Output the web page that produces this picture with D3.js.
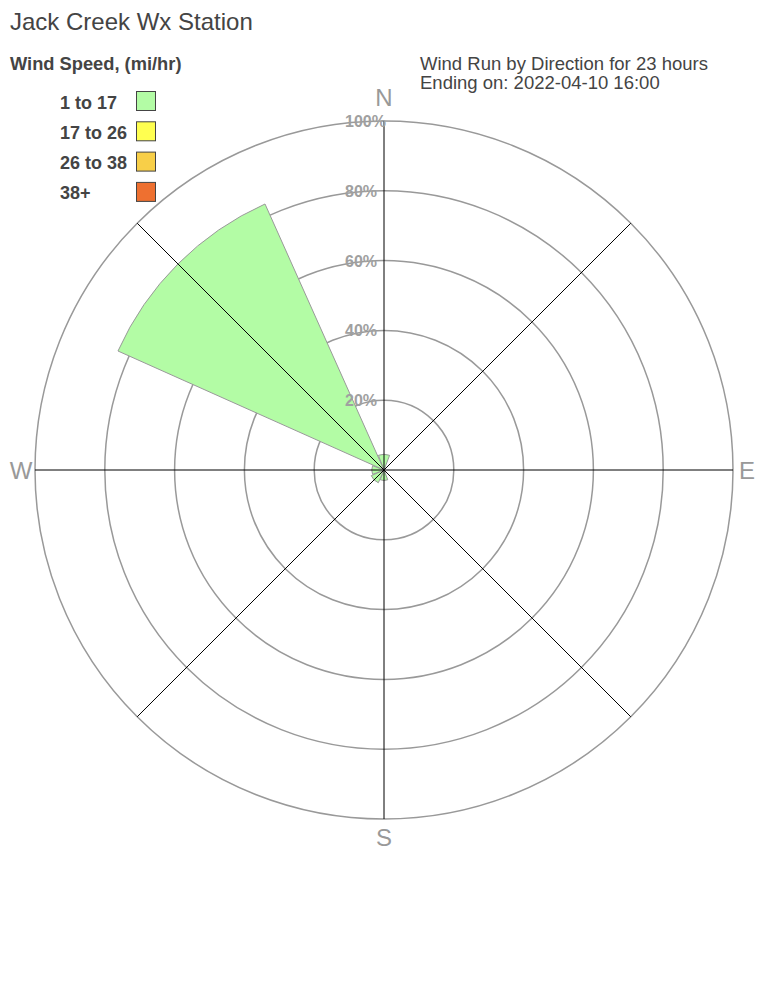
<!DOCTYPE html>
<html><head><meta charset="utf-8">
<script src="https://cdn.jsdelivr.net/npm/d3@7"></script>
<style>body{margin:0;background:#fff}svg{display:block;font-family:"Liberation Sans",Arial,sans-serif}</style>
</head><body><div id="chart"></div>
<script>
const directions = ["N","NE","E","SE","S","SW","W","NW"];
const speedBins = ["1 to 17","17 to 26","26 to 38","38+"];
const binColors = ["#b3fca5","#ffff50","#f8cf48","#ee7030"];
const bin1 = [4.5,0,0,0,3,4,3.5,83.5];
const bin2 = [0,0,0,0,0,0,0,0];
const bin3 = [0,0,0,0,0,0,0,0];
const bin4 = [0,0,0,0,0,0,0,0];
const ringTicks = [20,40,60,80,100];
const compass = ["N","E","S","W"];

const W=768,H=1008,cx=384,cy=470,R=349;
const svg=d3.select("#chart").append("svg").attr("width",W).attr("height",H);
const r=d3.scaleLinear().domain([0,100]).range([0,R]);
const ang=d3.scaleBand().domain(directions).range([-Math.PI/8,2*Math.PI-Math.PI/8]);
const pad=1.6*Math.PI/180;

svg.append("text").attr("x",10).attr("y",30).attr("font-size",24).attr("fill","#444").text("Jack Creek Wx Station");
svg.append("text").attr("x",10).attr("y",70).attr("font-size",18.3).attr("font-weight","bold").attr("fill","#444").text("Wind Speed, (mi/hr)");
svg.append("text").attr("x",420).attr("y",70).attr("font-size",18.5).attr("fill","#444").text("Wind Run by Direction for 23 hours");
svg.append("text").attr("x",420).attr("y",89).attr("font-size",18.5).attr("fill","#444").text("Ending on: 2022-04-10 16:00");

const leg=svg.append("g");
speedBins.forEach((b,i)=>{
  leg.append("text").attr("x",60).attr("y",108.5+i*30.3).attr("font-size",18).attr("font-weight","bold").attr("fill","#444").text(b);
  leg.append("rect").attr("x",136.5).attr("y",91.5+i*30.3).attr("width",19).attr("height",19).attr("fill",binColors[i]).attr("stroke","#444").attr("stroke-width",1);
});

const g=svg.append("g").attr("transform",`translate(${cx},${cy})`);
g.selectAll("circle.ring").data(ringTicks).join("circle").attr("class","ring")
  .attr("r",d=>r(d)).attr("fill","none").attr("stroke","#999").attr("stroke-width",1.5);

const bins=[bin1,bin2,bin3,bin4];
const arc=d3.arc();
directions.forEach((d,j)=>{
  let acc=0;
  bins.forEach((vals,i)=>{
    const v=vals[j]; if(v<=0) return;
    g.append("path").attr("d",arc({innerRadius:r(acc),outerRadius:r(acc+v),startAngle:ang(d)+pad,endAngle:ang(d)+ang.bandwidth()-pad}))
     .attr("fill",binColors[i]).attr("stroke","#999").attr("stroke-width",1);
    acc+=v;
  });
});

const spokes=d3.range(8).map(i=>i*Math.PI/4);
g.selectAll("line.spoke").data(spokes).join("line").attr("class","spoke")
  .attr("x1",0).attr("y1",0)
  .attr("x2",a=>r(100)*Math.sin(a)).attr("y2",a=>-r(100)*Math.cos(a))
  .attr("stroke","#000").attr("stroke-width",1);

g.selectAll("text.tick").data(ringTicks).join("text").attr("class","tick")
  .attr("x",-39).attr("y",d=>-r(d)+6).attr("font-size",16).attr("font-weight","bold").attr("fill","#a0a0a0")
  .text(d=>d+"%");

const cpos={N:[0,-r(100)-24],E:[r(100)+14,0],S:[0,r(100)+18],W:[-r(100)-14,0]};
compass.forEach(c=>{
  g.append("text").attr("x",cpos[c][0]).attr("y",cpos[c][1]).attr("text-anchor","middle").attr("dominant-baseline","central")
   .attr("font-size",24).attr("fill","#999").text(c);
});
</script></body></html>
